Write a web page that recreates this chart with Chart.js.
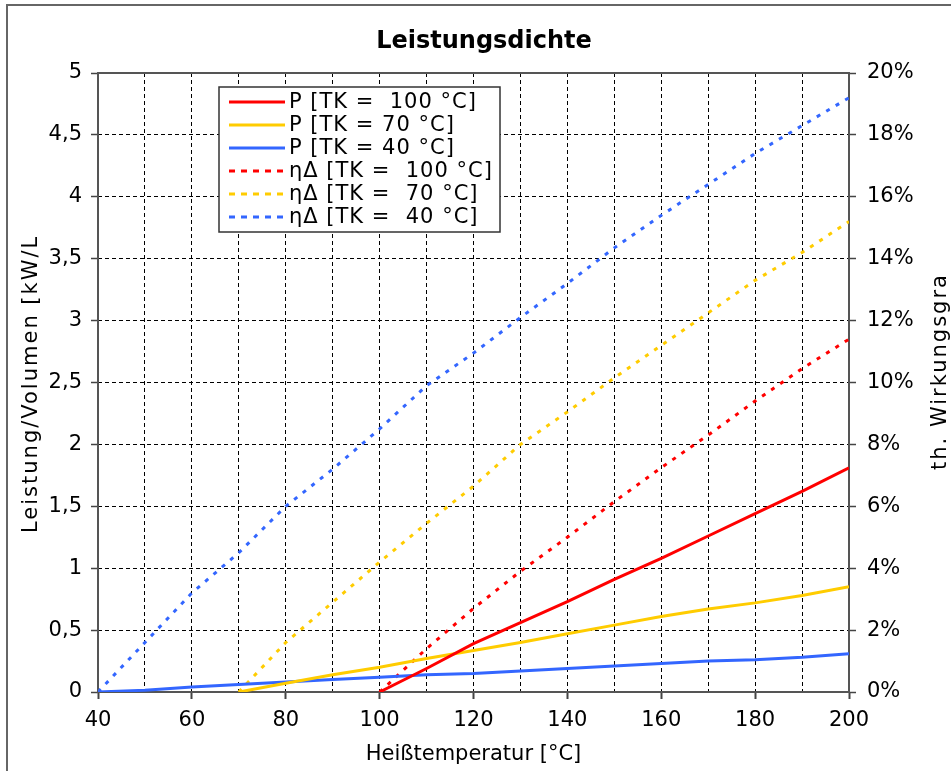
<!DOCTYPE html>
<html>
<head>
<meta charset="utf-8">
<script src="https://cdn.jsdelivr.net/npm/chart.js@4.4.1/dist/chart.umd.min.js"></script>
<style>
html,body{margin:0;padding:0;background:#fff;overflow:hidden}
canvas{display:block}
</style>
</head>
<body>
<canvas id="c" width="951" height="771"></canvas>
<script>
// ---- data ----
const temps = [40,50,60,70,80,90,100,110,120,130,140,150,160,170,180,190,200];
// Leistung/Volumen [kW/L]
const pTK100 = [null,null,null,null,null,null,0,0.19,0.39,0.56,0.73,0.91,1.08,1.26,1.44,1.62,1.81];
const pTK70  = [null,null,null,0,0.07,0.14,0.20,0.27,0.335,0.40,0.47,0.54,0.61,0.67,0.72,0.78,0.85];
const pTK40  = [0,0.015,0.04,0.06,0.08,0.10,0.12,0.14,0.15,0.17,0.19,0.21,0.23,0.25,0.26,0.28,0.31];
// th. Wirkungsgrad [%]
const etaTK100 = [null,null,null,null,null,null,0,1.4,2.7,3.9,5.0,6.15,7.25,8.3,9.4,10.45,11.4];
const etaTK70  = [null,null,null,0,1.6,2.9,4.2,5.45,6.65,8.0,9.05,10.15,11.2,12.25,13.3,14.2,15.2];
const etaTK40  = [0,1.6,3.2,4.5,6.0,7.2,8.5,9.9,10.95,12.1,13.2,14.35,15.4,16.4,17.4,18.3,19.2];

const seriesLabels = ['P [TK =  100 °C]','P [TK = 70 °C]','P [TK = 40 °C]','ηΔ [TK =  100 °C]','ηΔ [TK =  70 °C]','ηΔ [TK =  40 °C]'];
const xLabelTicks = [40,60,80,100,120,140,160,180,200];
const titleText = 'Leistungsdichte';
const xTitle = 'Heißtemperatur [°C]';
const yTitle = 'Leistung/Volumen [kW/L]';
const y1Title = 'th. Wirkungsgrad';

const RED = '#ff0000', YEL = '#ffcc00', BLU = '#3366ff';
const FONT = "'DejaVu Sans', Verdana, sans-serif";
Chart.defaults.font.family = FONT;
Chart.defaults.color = '#000';

const pts = arr => temps.map((t,i)=>({x:t, y:arr[i]}));

function ds(label, arr, color, dotted, axis){
  return {label, data: pts(arr), yAxisID: axis, borderColor: color, backgroundColor: color,
    borderWidth: 3, borderDash: dotted ? [4,7] : [], pointRadius: 0, tension: 0, fill:false, spanGaps:false};
}

const framePlugin = {
  id:'frame',
  beforeDraw(chart){
    const c = chart.ctx;
    c.save();
    c.strokeStyle = '#666'; c.lineWidth = 2;
    c.beginPath(); c.moveTo(7, 800); c.lineTo(7, 5); c.lineTo(1000, 5); c.stroke();
    c.restore();
  },
  beforeDatasetsDraw(chart){
    const a = chart.chartArea, c = chart.ctx;
    c.save();
    c.strokeStyle = '#555'; c.lineWidth = 2;
    c.strokeRect(a.left, a.top, a.right-a.left, a.bottom-a.top);
    c.restore();
  }
};

const textPlugin = {
  id:'extras',
  afterDraw(chart){
    const c = chart.ctx;
    // axis titles (rotated, clipped at the top like the original)
    c.save();
    c.font = '21px ' + FONT; c.fillStyle = '#000'; c.textBaseline = 'alphabetic'; c.textAlign = 'left';
    try { c.letterSpacing = '2px'; } catch(e) {}
    c.save();
    c.beginPath(); c.rect(0, 233, 90, 600); c.clip();
    c.translate(37, 533); c.rotate(-Math.PI/2); c.fillText(yTitle, 0, 0);
    c.restore();
    c.save();
    c.beginPath(); c.rect(900, 272, 60, 600); c.clip();
    c.translate(946, 470); c.rotate(-Math.PI/2); c.fillText(y1Title, 0, 0);
    c.restore();
    c.restore();

    // legend box
    const x0 = 219, y0 = 87, w = 281, h = 145;
    c.save();
    c.fillStyle = '#fff'; c.fillRect(x0, y0, w, h);
    c.strokeStyle = '#333'; c.lineWidth = 1.5; c.strokeRect(x0, y0, w, h);
    c.font = '21px ' + FONT; c.textBaseline = 'middle'; c.textAlign = 'left';
    try { c.letterSpacing = '1px'; } catch(e) {}
    chart.data.datasets.forEach((d, i) => {
      const cy = 102 + i * 23;
      c.strokeStyle = d.borderColor; c.lineWidth = 3;
      c.setLineDash(d.borderDash.length ? [6,6] : []);
      c.beginPath(); c.moveTo(229, cy); c.lineTo(285, cy); c.stroke();
      c.fillStyle = '#000';
      c.fillText(d.label, 289, cy + 1);
    });
    c.restore();
  }
};

new Chart(document.getElementById('c'), {
  type: 'line',
  data: {
    datasets: [
      ds(seriesLabels[0], pTK100, RED, false, 'y'),
      ds(seriesLabels[1], pTK70, YEL, false, 'y'),
      ds(seriesLabels[2], pTK40, BLU, false, 'y'),
      ds(seriesLabels[3], etaTK100, RED, true, 'y1'),
      ds(seriesLabels[4], etaTK70, YEL, true, 'y1'),
      ds(seriesLabels[5], etaTK40, BLU, true, 'y1')
    ]
  },
  options: {
    responsive: false,
    devicePixelRatio: 1,
    animation: false,
    layout: { padding: { left: 20, right: 3, top: 0, bottom: 0 } },
    plugins: {
      legend: { display: false },
      tooltip: { enabled: false },
      title: { display: true, text: titleText, color:'#000',
        font: { size: 24, weight: 'bold', family: FONT }, padding: { top: 27, bottom: 17.2 } }
    },
    scales: {
      x: {
        type: 'linear', min: 40, max: 200,
        afterBuildTicks: s => { s.ticks = temps.map(v => ({value: v})); },
        afterFit: s => { s.height = 79; },
        ticks: { autoSkip: false, maxRotation: 0, padding: 9, color:'#000', font: { size: 21 },
          callback: v => xLabelTicks.includes(v) ? String(v) : '' },
        grid: { color: '#000', lineWidth: 1, tickLength: 7, tickWidth: 2,
          tickColor: ctx => (ctx.tick && xLabelTicks.includes(ctx.tick.value)) ? '#444' : 'rgba(0,0,0,0)' },
        border: { display: false, dash: [4,3] },
        title: { display: true, text: xTitle, color:'#000', font: { size: 21 }, padding: { top: 0, bottom: 4 } }
      },
      y: {
        type: 'linear', position: 'left', min: 0, max: 5,
        afterFit: s => { s.width = 78; },
        ticks: { stepSize: 0.5, padding: 9, color:'#000', font: { size: 21 },
          callback: v => String(v).replace('.', ',') },
        grid: { color: '#000', lineWidth: 1, tickLength: 7, tickWidth: 1.5, tickColor: '#444' },
        border: { display: false, dash: [4,3] }
      },
      y1: {
        type: 'linear', position: 'right', min: 0, max: 20,
        afterFit: s => { s.width = 99; },
        ticks: { stepSize: 2, padding: 11, color:'#000', font: { size: 21 },
          callback: v => v + '%' },
        grid: { drawOnChartArea: false, tickLength: 7, tickWidth: 1.5, tickColor: '#444' },
        border: { display: false }
      }
    }
  },
  plugins: [framePlugin, textPlugin]
});
</script>
</body>
</html>
